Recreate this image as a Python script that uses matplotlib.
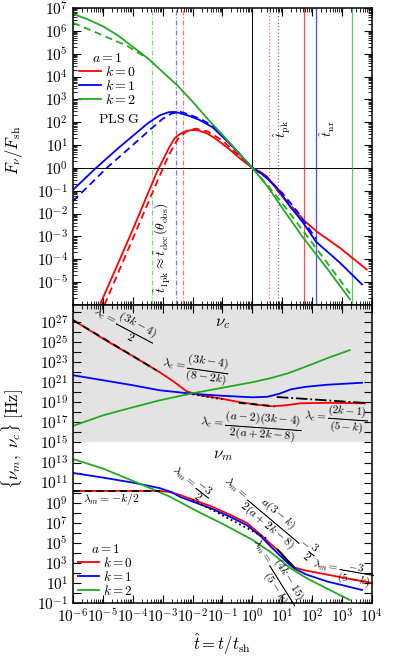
import numpy as np
import matplotlib
matplotlib.use('Agg')
import matplotlib.pyplot as plt
from matplotlib.lines import Line2D
from matplotlib.ticker import LogLocator, FuncFormatter, NullFormatter

plt.rcParams['mathtext.fontset'] = 'cm'
plt.rcParams['font.family'] = 'serif'
plt.rcParams['font.serif'] = ['DejaVu Serif']

c_red, c_blue, c_green = '#ff0000', '#0000ff', '#22aa22'

# ---- top panel: light curves, log10(t) and log10(F/Fsh)
t_F_k0 = [-5.1, -4.0, -3.2, -2.8, -2.6, -2.4, -2.2, -2.0, -1.8, -1.5, -1.2, -0.8, -0.4, 0.0,
          0.27, 0.5, 0.83, 1.27, 1.7, 2.17, 2.93, 3.83]
F_k0 = [-6.0, -2.7, -0.2, 0.85, 1.3, 1.5, 1.62, 1.66, 1.64, 1.5, 1.25, 0.85, 0.4, 0.0,
        -0.17, -0.39, -0.96, -1.7, -2.27, -2.8, -3.5, -4.45]
t_F_k0d = [-4.95, -4.0, -3.2, -2.8, -2.5, -2.2, -1.9, -1.5, -1.0, -0.5, 0.0, 0.5, 1.0, 1.5, 1.73]
F_k0d = [-6.0, -3.1, -0.65, 0.55, 1.25, 1.6, 1.72, 1.6, 1.2, 0.6, 0.0, -0.4, -1.25, -1.95, -2.3]

t_F_k1 = [-6.0, -5.27, -4.5, -4.0, -3.5, -3.1, -2.8, -2.6, -2.43, -2.1, -1.77, -1.33, -0.67, 0.0,
          0.37, 0.83, 1.27, 1.7, 2.13, 2.93, 3.67]
F_k1 = [-0.96, -0.05, 0.85, 1.4, 1.95, 2.3, 2.44, 2.45, 2.4, 2.27, 2.1, 1.78, 0.95, 0.0,
        -0.31, -0.87, -1.7, -2.4, -3.23, -4.15, -5.1]
t_F_k1d = [-6.0, -4.87, -4.0, -3.4, -3.0, -2.7, -2.4, -2.1, -1.7, -1.3, -0.7, 0.0, 0.5, 1.0, 1.5, 2.13]
F_k1d = [-1.46, 0.0, 1.0, 1.7, 2.15, 2.38, 2.45, 2.33, 2.12, 1.82, 1.0, 0.0, -0.45, -1.1, -1.9, -3.1]

t_F_k2 = [-6.0, -5.5, -5.0, -4.5, -4.0, -3.5, -3.0, -2.5, -2.0, -1.5, -1.0, -0.5, 0.0,
          0.5, 1.0, 1.67, 2.5, 3.27]
F_k2 = [6.74, 6.5, 6.2, 5.8, 5.3, 4.8, 4.2, 3.6, 2.9, 2.15, 1.45, 0.72, 0.0,
        -0.8, -1.75, -3.0, -4.4, -5.76]
t_F_k2d_early = [-6.0, -5.0, -4.2, -3.77, -3.5]
F_k2d_early = [6.35, 5.8, 5.35, 5.0, 4.8]
t_F_k2d_late = [0.0, 0.5, 1.0, 1.67, 2.5, 3.27]
F_k2d_late = [0.0, -0.75, -1.55, -2.7, -4.15, -5.5]

# characteristic times (log10)
t1pk = {'green': -3.36, 'blue': -2.56, 'red': -2.32}
tpk = {'red': 0.56, 'blue': 0.86}
tnr = {'red': 1.73, 'blue': 2.13, 'green': 3.33}

# ---- bottom panel: break frequencies, log10(t) and log10(nu/Hz)
t_nuc_k0 = [-6.0, -5.0, -4.0, -3.1, -2.6, -2.2, -1.75, -1.1, -0.4, 0.2, 0.7, 1.1, 1.6, 2.5, 3.77]
nuc_k0 = [27.2, 25.35, 23.6, 22.0, 21.0, 20.1, 19.7, 19.4, 19.0, 18.75, 18.6, 18.7, 18.9, 18.95, 18.9]
t_nuc_k1 = [-6.0, -5.0, -4.0, -3.1, -2.0, -1.0, 0.0, 0.5, 0.9, 1.3, 1.8, 2.5, 3.67]
nuc_k1 = [21.7, 21.2, 20.7, 20.2, 19.85, 19.65, 19.5, 19.55, 19.85, 20.3, 20.55, 20.75, 20.95]
t_nuc_k2 = [-6.0, -5.0, -4.0, -3.1, -2.0, -1.0, 0.0, 0.6, 1.2, 2.0, 2.6, 3.26]
nuc_k2 = [16.65, 17.7, 18.5, 19.2, 19.9, 20.45, 21.0, 21.4, 21.9, 22.8, 23.5, 24.2]

t_num_k0 = [-6.0, -4.0, -3.1, -2.8, -2.42, -1.9, -1.32, -0.75, -0.18, 0.3, 0.59, 0.92, 1.2, 1.4,
            1.7, 2.03, 3.0, 4.0]
num_k0 = [10.17, 10.17, 10.17, 10.08, 9.77, 9.2, 8.57, 7.8, 6.98, 5.75, 4.95, 4.1, 3.15, 2.55,
          2.3, 2.1, 1.55, 1.0]
t_num_k1 = [-6.0, -5.0, -4.0, -3.1, -2.7, -2.4, -1.9, -1.32, -0.75, -0.18, 0.3, 0.59, 0.92, 1.2,
            1.4, 1.8, 2.5, 3.67]
num_k1 = [11.96, 11.5, 11.0, 10.45, 10.05, 9.55, 9.0, 8.35, 7.6, 6.75, 5.6, 4.7, 3.75, 2.95,
          2.45, 1.85, 1.15, 0.3]
t_num_k2 = [-6.0, -5.0, -4.1, -3.3, -2.76, -1.75, -1.0, 0.0, 0.6, 1.26, 1.8, 2.26, 3.26]
num_k2 = [13.35, 12.4, 11.3, 10.3, 9.6, 8.0, 6.9, 5.3, 4.1, 2.5, 1.5, 0.8, -0.7]

# asymptotic slopes drawn in black
asym_c = [([-6.0, -3.2], [27.2, 22.18], (0, (4, 2.5))),
          ([-2.0, -1.0], [19.8, 19.3], ':'),
          ([-0.45, 0.75], [18.95, 18.6], (0, (4, 2.5))),
          ([0.82, 3.77], [19.53, 18.94], '-.')]
asym_m = [([-6.0, -3.1], [10.17, 10.17], (0, (4, 2.5))),
          ([-2.0, 0.5], [9.3, 5.4], ':'),
          ([0.85, 1.4], [4.3, 2.55], '-')]

def p(v):
    return 10.0 ** np.asarray(v)

fig = plt.figure(figsize=(3.99, 6.65), dpi=100)
ax1 = fig.add_axes([0.183, 0.5414, 0.749, 0.4466])
ax2 = fig.add_axes([0.183, 0.0932, 0.749, 0.4482], sharex=ax1)

lw = 1.3
dash = (0, (4, 2.5))
cmap = {'red': c_red, 'blue': c_blue, 'green': c_green}

# top panel
ax1.axhline(1.0, color='k', lw=0.7)
ax1.axvline(1.0, color='k', lw=0.7)
for col, v in t1pk.items():
    ax1.axvline(10 ** v, color=cmap[col], ls=(0, (4, 1.5, 1, 1.5)), lw=0.9, alpha=0.55)
for col, v in tpk.items():
    ax1.axvline(10 ** v, color=cmap[col], ls=':', lw=0.9, alpha=0.6)
for col, v in tnr.items():
    ax1.axvline(10 ** v, color=cmap[col], lw=0.9, alpha=0.7)

ax1.plot(p(t_F_k0), p(F_k0), color=c_red, lw=lw)
ax1.plot(p(t_F_k0d), p(F_k0d), color=c_red, lw=lw, ls=dash)
ax1.plot(p(t_F_k1), p(F_k1), color=c_blue, lw=lw)
ax1.plot(p(t_F_k1d), p(F_k1d), color=c_blue, lw=lw, ls=dash)
ax1.plot(p(t_F_k2), p(F_k2), color=c_green, lw=lw)
ax1.plot(p(t_F_k2d_early), p(F_k2d_early), color=c_green, lw=lw, ls=dash)
ax1.plot(p(t_F_k2d_late), p(F_k2d_late), color=c_green, lw=lw, ls=dash)

ax1.set_yscale('log')
ax1.set_xscale('log')
ax1.set_xlim(1e-6, 1e4)
ax1.set_ylim(1e-6, 1e7)

ax1.text(10 ** -3.02, 10 ** -3.5, r'$\hat{t}_{1\rm pk}\approx\hat{t}_{\rm dec}(\theta_{\rm obs})$',
         rotation=90, ha='center', va='center', fontsize=10)
ax1.text(10 ** 1.02, 10 ** 1.7, r'$\hat{t}_{\rm pk}$', rotation=90, ha='center', va='center', fontsize=10)
ax1.text(10 ** 2.5, 10 ** 1.7, r'$\hat{t}_{\rm nr}$', rotation=90, ha='center', va='center', fontsize=10)

handles = [Line2D([], [], color=c_red, lw=lw), Line2D([], [], color=c_blue, lw=lw),
           Line2D([], [], color=c_green, lw=lw)]
labels = [r'$k=0$', r'$k=1$', r'$k=2$']
ax1.legend(handles, labels, title=r'$a=1$', loc='upper left', bbox_to_anchor=(0.0, 0.875),
           frameon=False, fontsize=10, title_fontsize=10, handlelength=1.6, handleheight=0.6,
           handletextpad=0.3, labelspacing=0.0, borderaxespad=0.2, borderpad=0.2)
ax1.text(0.085, 0.625, r'$\mathrm{PLS\ G}$', transform=ax1.transAxes, ha='left', va='center', fontsize=10)
ax1.set_ylabel(r'$F_\nu/F_{\rm sh}$', fontsize=12)
ax1.yaxis.set_label_coords(-0.16, 0.52)

# bottom panel
ax2.axhspan(1e15, 1e30, color='0.89', zorder=0, lw=0)
ax2.plot(p(t_nuc_k0), p(nuc_k0), color=c_red, lw=lw)
ax2.plot(p(t_nuc_k1), p(nuc_k1), color=c_blue, lw=lw)
ax2.plot(p(t_nuc_k2), p(nuc_k2), color=c_green, lw=lw)
ax2.plot(p(t_num_k0), p(num_k0), color=c_red, lw=lw)
ax2.plot(p(t_num_k1), p(num_k1), color=c_blue, lw=lw)
ax2.plot(p(t_num_k2), p(num_k2), color=c_green, lw=lw)
for tt, vv, ls in asym_c + asym_m:
    ax2.plot(p(tt), p(vv), color='k', lw=1.3, ls=ls)

ax2.set_yscale('log')
ax2.set_ylim(1e-1, 10 ** 28.7)

fs = 8.5
ax2.text(10 ** -0.98, 10 ** 27.0, r'$\nu_c$', ha='center', va='center', fontsize=12)
ax2.text(10 ** -0.98, 10 ** 13.75, r'$\nu_m$', ha='center', va='center', fontsize=12)
ax2.text(10 ** -4.3, 10 ** 26.7, r'$\lambda_c=\dfrac{(3k-4)}{2}$', rotation=-28, ha='center', va='center', fontsize=fs)
ax2.text(10 ** -1.92, 10 ** 22.4, r'$\lambda_c=\dfrac{(3k-4)}{(8-2k)}$', rotation=-8, ha='center', va='center', fontsize=fs)
ax2.text(10 ** -0.05, 10 ** 16.7, r'$\lambda_c=\dfrac{(a-2)(3k-4)}{2(a+2k-8)}$', rotation=-4, ha='center', va='center', fontsize=fs)
ax2.text(10 ** 2.78, 10 ** 17.4, r'$\lambda_c=\dfrac{(2k-1)}{(5-k)}$', rotation=-4, ha='center', va='center', fontsize=8)
ax2.text(10 ** -4.73, 10 ** 9.37, r'$\lambda_m=-k/2$', ha='center', va='center', fontsize=fs)
ax2.text(10 ** -2.09, 10 ** 10.9, r'$\lambda_m=\dfrac{-3}{2}$', rotation=-38, ha='center', va='center', fontsize=fs)
ax2.text(10 ** 0.59, 10 ** 7.5, r'$\lambda_m=\dfrac{a(3-k)}{2(a+2k-8)}-\dfrac{3}{2}$', rotation=-40, ha='center', va='center', fontsize=fs)
ax2.text(10 ** 0.76, 10 ** 2.1, r'$\lambda_m=\dfrac{(4k-15)}{(5-k)}$', rotation=-58, ha='center', va='center', fontsize=fs)
ax2.text(10 ** 3.0, 10 ** 2.1, r'$\lambda_m=\dfrac{-3}{(5-k)}$', rotation=-10, ha='center', va='center', fontsize=8)

ax2.legend(handles, labels, title=r'$a=1$', loc='lower left', bbox_to_anchor=(0.0, 0.0),
           frameon=False, fontsize=9.5, title_fontsize=9.5, handlelength=1.6, handleheight=0.6,
           handletextpad=0.3, labelspacing=0.0, borderaxespad=0.2, borderpad=0.2)
ax2.set_ylabel(r'$\{\nu_m,\ \nu_c\}\ [\mathrm{Hz}]$', fontsize=12)
ax2.yaxis.set_label_coords(-0.16, 0.55)
ax2.set_xlabel(r'$\hat{t}=t/t_{\rm sh}$', fontsize=12)

# ticks
def exp_label(v, skip=None):
    e = int(round(np.log10(v)))
    if skip is not None and e in skip:
        return ''
    return r'$10^{%d}$' % e

for ax in (ax1, ax2):
    ax.xaxis.set_major_locator(LogLocator(base=10, numticks=15))
    ax.xaxis.set_minor_locator(LogLocator(base=10, subs=np.arange(2, 10), numticks=15))
    ax.tick_params(which='both', direction='in', top=True, right=True, labelsize=11)
    ax.tick_params(which='major', length=6, width=0.8)
    ax.tick_params(which='minor', length=3, width=0.6)
    for s in ax.spines.values():
        s.set_linewidth(1.1)

ax1.yaxis.set_major_locator(LogLocator(base=10, numticks=20))
ax1.yaxis.set_minor_locator(LogLocator(base=10, subs=np.arange(2, 10), numticks=20))
ax1.yaxis.set_minor_formatter(NullFormatter())
ax1.yaxis.set_major_formatter(FuncFormatter(lambda v, _: exp_label(v, skip=[-6])))
ax1.tick_params(labelbottom=False)

# odd decades labelled, even decades as unlabelled ticks of the same length
ax2.yaxis.set_major_locator(LogLocator(base=100, subs=[10.0], numticks=30))
ax2.yaxis.set_minor_locator(LogLocator(base=100, subs=[1.0], numticks=30))
ax2.yaxis.set_major_formatter(FuncFormatter(lambda v, _: exp_label(v)))
ax2.yaxis.set_minor_formatter(NullFormatter())
ax2.tick_params(axis='y', which='minor', length=6, width=0.8)
ax2.xaxis.set_major_formatter(FuncFormatter(lambda v, _: exp_label(v)))
ax2.xaxis.set_minor_formatter(NullFormatter())
ax2.set_xlim(1e-6, 1e4)

fig.savefig('out.png', dpi=100)
